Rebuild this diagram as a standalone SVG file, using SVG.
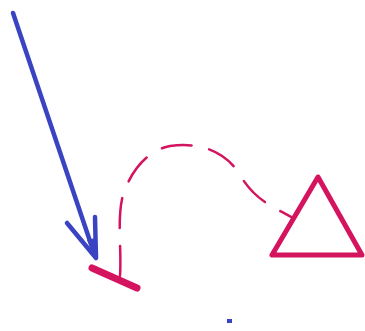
<svg xmlns="http://www.w3.org/2000/svg" width="365" height="331" viewBox="0 0 365 331">
<style>
.pink{stroke:#d4145e;fill:none;stroke-linecap:round;stroke-linejoin:round}
.blue{stroke:#3a44c2;fill:none;stroke-linecap:round;stroke-linejoin:round}
</style>
<rect width="365" height="331" fill="#fff"/>
<g id="connectors">
<path class="blue" stroke-width="4.5" d="M13,13 L95,256"/>
<path class="blue" stroke-width="4.5" d="M67,223 L96,258 L95,217"/>
<path fill="#3a44c2" d="M96,259 L87,240 L95,238 Z"/>
<path class="pink" stroke-width="2.5" stroke-dasharray="30 18" d="M120,276 C122,250 116,215 124,192 C132,170 148,150 170,146 C198,142 225,150 240,175 C255,200 270,205 293,218"/>
</g>
<g id="bar">
<line class="pink" stroke-width="7" x1="92" y1="268" x2="137" y2="288"/>
</g>
<g id="triangle">
<polygon class="pink" stroke-width="5" points="318,177 272,255 362,255"/>
</g>
<g id="dot">
<rect x="227" y="319" width="5" height="4" fill="#3a44c2"/>
</g>
</svg>
